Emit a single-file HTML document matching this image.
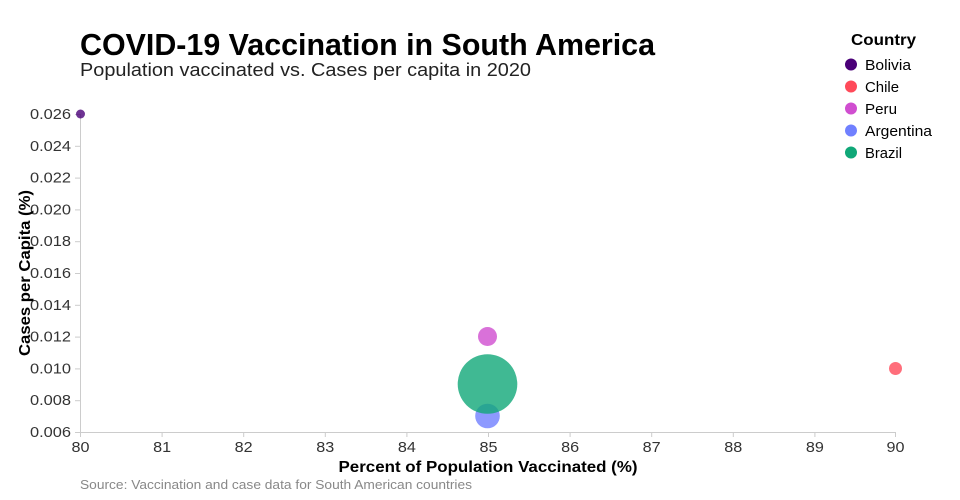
<!DOCTYPE html>
<html><head><meta charset="utf-8"><style>
html,body{margin:0;padding:0;background:#fff;}
svg{display:block;font-family:"Liberation Sans",sans-serif;}
</style></head><body>
<svg width="960" height="500" viewBox="0 0 960 500" xmlns="http://www.w3.org/2000/svg">
<rect width="960" height="500" fill="#fff"/>
<text x="80" y="55" font-size="31" font-weight="bold" fill="#000" textLength="575" lengthAdjust="spacingAndGlyphs">COVID-19 Vaccination in South America</text>
<text x="80" y="76" font-size="18" fill="#222" textLength="451" lengthAdjust="spacingAndGlyphs">Population vaccinated vs. Cases per capita in 2020</text>
<!-- axes -->
<g stroke="#ccc" stroke-width="1" fill="none">
<line x1="80.5" y1="114" x2="80.5" y2="432"/>
<line x1="80" y1="432.5" x2="896" y2="432.5"/>
<line x1="75" y1="432.5" x2="80" y2="432.5"/>
<line x1="75" y1="400.7" x2="80" y2="400.7"/>
<line x1="75" y1="368.9" x2="80" y2="368.9"/>
<line x1="75" y1="337.1" x2="80" y2="337.1"/>
<line x1="75" y1="305.3" x2="80" y2="305.3"/>
<line x1="75" y1="273.5" x2="80" y2="273.5"/>
<line x1="75" y1="241.7" x2="80" y2="241.7"/>
<line x1="75" y1="209.9" x2="80" y2="209.9"/>
<line x1="75" y1="178.1" x2="80" y2="178.1"/>
<line x1="75" y1="146.3" x2="80" y2="146.3"/>
<line x1="75" y1="114.5" x2="80" y2="114.5"/>
<line x1="80.5" y1="432" x2="80.5" y2="437"/>
<line x1="162.1" y1="432" x2="162.1" y2="437"/>
<line x1="243.7" y1="432" x2="243.7" y2="437"/>
<line x1="325.3" y1="432" x2="325.3" y2="437"/>
<line x1="406.9" y1="432" x2="406.9" y2="437"/>
<line x1="488.5" y1="432" x2="488.5" y2="437"/>
<line x1="570.1" y1="432" x2="570.1" y2="437"/>
<line x1="651.7" y1="432" x2="651.7" y2="437"/>
<line x1="733.3" y1="432" x2="733.3" y2="437"/>
<line x1="814.9" y1="432" x2="814.9" y2="437"/>
<line x1="895.5" y1="432" x2="895.5" y2="437"/>
</g>
<g font-size="14.5" fill="#333" text-anchor="end">
<text x="71" y="437" textLength="41" lengthAdjust="spacingAndGlyphs">0.006</text>
<text x="71" y="405.2" textLength="41" lengthAdjust="spacingAndGlyphs">0.008</text>
<text x="71" y="373.4" textLength="41" lengthAdjust="spacingAndGlyphs">0.010</text>
<text x="71" y="341.6" textLength="41" lengthAdjust="spacingAndGlyphs">0.012</text>
<text x="71" y="309.8" textLength="41" lengthAdjust="spacingAndGlyphs">0.014</text>
<text x="71" y="278" textLength="41" lengthAdjust="spacingAndGlyphs">0.016</text>
<text x="71" y="246.2" textLength="41" lengthAdjust="spacingAndGlyphs">0.018</text>
<text x="71" y="214.4" textLength="41" lengthAdjust="spacingAndGlyphs">0.020</text>
<text x="71" y="182.6" textLength="41" lengthAdjust="spacingAndGlyphs">0.022</text>
<text x="71" y="150.8" textLength="41" lengthAdjust="spacingAndGlyphs">0.024</text>
<text x="71" y="119" textLength="41" lengthAdjust="spacingAndGlyphs">0.026</text>
</g>
<g font-size="14.5" fill="#333" text-anchor="middle">
<text x="80.5" y="452" textLength="18" lengthAdjust="spacingAndGlyphs">80</text>
<text x="162.1" y="452" textLength="18" lengthAdjust="spacingAndGlyphs">81</text>
<text x="243.7" y="452" textLength="18" lengthAdjust="spacingAndGlyphs">82</text>
<text x="325.3" y="452" textLength="18" lengthAdjust="spacingAndGlyphs">83</text>
<text x="406.9" y="452" textLength="18" lengthAdjust="spacingAndGlyphs">84</text>
<text x="488.5" y="452" textLength="18" lengthAdjust="spacingAndGlyphs">85</text>
<text x="570.1" y="452" textLength="18" lengthAdjust="spacingAndGlyphs">86</text>
<text x="651.7" y="452" textLength="18" lengthAdjust="spacingAndGlyphs">87</text>
<text x="733.3" y="452" textLength="18" lengthAdjust="spacingAndGlyphs">88</text>
<text x="814.9" y="452" textLength="18" lengthAdjust="spacingAndGlyphs">89</text>
<text x="895.5" y="452" textLength="18" lengthAdjust="spacingAndGlyphs">90</text>
</g>
<text x="488" y="472" font-size="16" font-weight="bold" fill="#000" text-anchor="middle" textLength="299" lengthAdjust="spacingAndGlyphs">Percent of Population Vaccinated (%)</text>
<text transform="translate(30,273) rotate(-90)" font-size="16" font-weight="bold" fill="#000" text-anchor="middle" textLength="166" lengthAdjust="spacingAndGlyphs">Cases per Capita (%)</text>
<text x="80" y="489" font-size="13" fill="#888" textLength="392" lengthAdjust="spacingAndGlyphs">Source: Vaccination and case data for South American countries</text>
<!-- points -->
<g fill-opacity="0.8">
<circle cx="80.5" cy="114" r="4.5" fill="#4a0078"/>
<circle cx="895.5" cy="368.5" r="6.5" fill="#ff4a5a"/>
<circle cx="487.5" cy="336.5" r="9.5" fill="#d04ed0"/>
<circle cx="487.5" cy="416" r="12.3" fill="#7080ff"/>
<circle cx="487.5" cy="384" r="29.8" fill="#10a878"/>
</g>
<!-- legend -->
<text x="851" y="45" font-size="16" font-weight="bold" fill="#000" textLength="65" lengthAdjust="spacingAndGlyphs">Country</text>
<g font-size="15" fill="#000">
<circle cx="851" cy="64.5" r="6" fill="#4a0078"/><text x="865" y="70" textLength="46" lengthAdjust="spacingAndGlyphs">Bolivia</text>
<circle cx="851" cy="86.5" r="6" fill="#ff4a5a"/><text x="865" y="92" textLength="34" lengthAdjust="spacingAndGlyphs">Chile</text>
<circle cx="851" cy="108.5" r="6" fill="#d04ed0"/><text x="865" y="114" textLength="32" lengthAdjust="spacingAndGlyphs">Peru</text>
<circle cx="851" cy="130.5" r="6" fill="#7080ff"/><text x="865" y="136" textLength="67" lengthAdjust="spacingAndGlyphs">Argentina</text>
<circle cx="851" cy="152.5" r="6" fill="#10a878"/><text x="865" y="158" textLength="37" lengthAdjust="spacingAndGlyphs">Brazil</text>
</g>
</svg>
</body></html>
